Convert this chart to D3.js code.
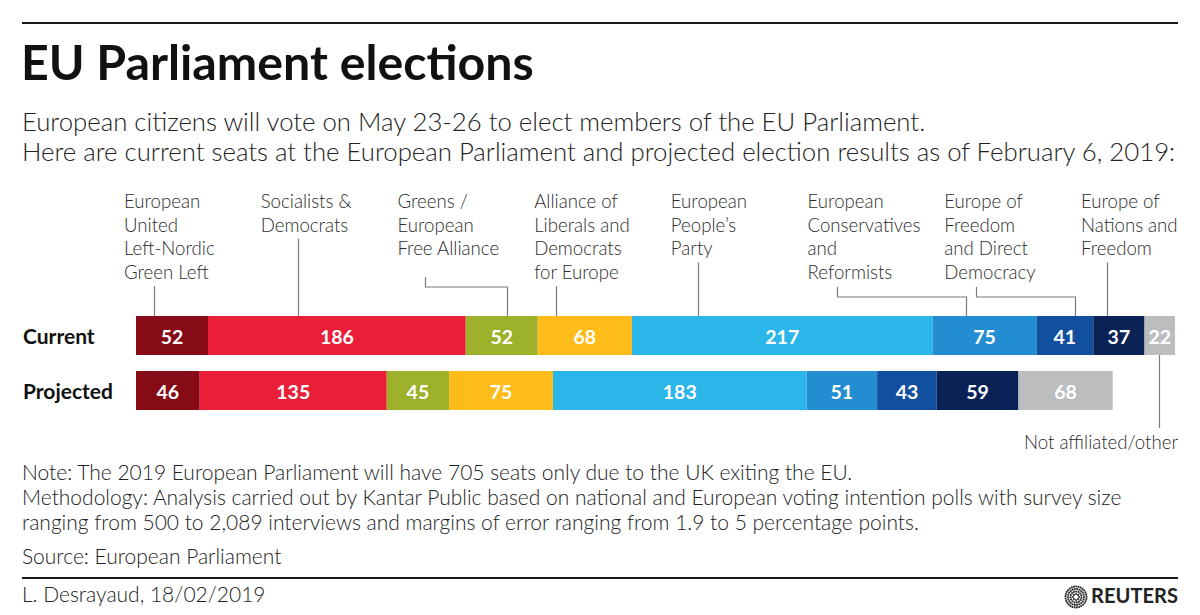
<!DOCTYPE html>
<html lang="en">
  <head>
    <meta charset="UTF-8" />
    <title>EU Parliament elections</title>
    <style>
      body { margin: 0; background: #fff; }
      svg text { font-family: "Source Sans Pro", Lato, sans-serif; }
    </style>
  </head>
  <body>
    <script src="https://d3js.org/d3.v7.min.js"></script>
    <script>
      // groups, in bar order
      const parties = [
        "European United Left-Nordic Green Left",
        "Socialists & Democrats",
        "Greens / European Free Alliance",
        "Alliance of Liberals and Democrats for Europe",
        "European People’s Party",
        "European Conservatives and Reformists",
        "Europe of Freedom and Direct Democracy",
        "Europe of Nations and Freedom",
        "Not affiliated/other",
      ];
      const labelLines = [
        ["European", "United", "Left-Nordic", "Green Left"],
        ["Socialists &", "Democrats"],
        ["Greens /", "European", "Free Alliance"],
        ["Alliance of", "Liberals and", "Democrats", "for Europe"],
        ["European", "People’s", "Party"],
        ["European", "Conservatives", "and", "Reformists"],
        ["Europe of", "Freedom", "and Direct", "Democracy"],
        ["Europe of", "Nations and", "Freedom"],
        ["Not affiliated/other"],
      ];
      const rows = ["Current", "Projected"];
      const currentSeats = [52, 186, 52, 68, 217, 75, 41, 37, 22];
      const projectedSeats = [46, 135, 45, 75, 183, 51, 43, 59, 68];
      const partyColors = [
        "#870b17", "#ea1f37", "#9eb12b", "#fdbc1a", "#2ab6e8",
        "#238dd2", "#114f9f", "#0b2257", "#bcbdbf",
      ];

      const title = "EU Parliament elections";
      const subtitle = [
        "European citizens will vote on May 23-26 to elect members of the EU Parliament.",
        "Here are current seats at the European Parliament and projected election results as of February 6, 2019:",
      ];
      const notes = [
        "Note: The 2019 European Parliament will have 705 seats only due to the UK exiting the EU.",
        "Methodology: Analysis carried out by Kantar Public based on national and European voting intention polls with survey size",
        "ranging from 500 to 2,089 interviews and margins of error ranging from 1.9 to 5 percentage points.",
      ];
      const source = "Source: European Parliament";
      const byline = "L. Desrayaud, 18/02/2019";

      const width = 1200;
      const height = 615;

      // scale the font so that a line matches the width of the original
      function fit(sel, target) {
        const w = sel.node().getComputedTextLength();
        const fs = parseFloat(sel.attr("font-size"));
        return (fs * target) / w;
      }

      const svg = d3
        .select("body")
        .append("svg")
        .attr("width", width)
        .attr("height", height);

      // rules
      svg.append("line")
        .attr("x1", 22).attr("x2", 1178).attr("y1", 23).attr("y2", 23)
        .attr("stroke", "#1a1a1a").attr("stroke-width", 2);
      svg.append("line")
        .attr("x1", 22).attr("x2", 1178).attr("y1", 578).attr("y2", 578)
        .attr("stroke", "#1a1a1a").attr("stroke-width", 2);

      const titleText = svg.append("text")
        .attr("x", 21).attr("y", 80)
        .attr("font-size", 46).attr("font-weight", 700)
        .attr("fill", "#111")
        .text(title);
      titleText.attr("font-size", fit(titleText, 513));

      const sub = svg.append("g");
      sub.selectAll("text")
        .data(subtitle)
        .join("text")
        .attr("x", 22)
        .attr("y", (d, i) => 131 + i * 30)
        .attr("font-size", 24)
        .attr("font-weight", 300)
        .attr("fill", "#222")
        .text((d) => d);
      const subSize = fit(sub.select("text:nth-child(2)"), 1154);
      sub.selectAll("text").attr("font-size", subSize);

      // chart
      const series = [currentSeats, projectedSeats];
      const totalMax = d3.max(series, (s) => d3.sum(s));

      const xScale = d3.scaleLinear().domain([0, totalMax]).range([136, 1175]);
      const yScale = d3
        .scaleBand()
        .domain(rows)
        .range([316, 410])
        .paddingInner(16 / 55);
      const colorScale = d3.scaleOrdinal().domain(parties).range(partyColors);

      const tableData = rows.map((r, ri) => {
        const d = { row: r };
        parties.forEach((p, pi) => (d[p] = series[ri][pi]));
        return d;
      });
      const stacked = d3.stack().keys(parties)(tableData);

      const chart = svg.append("g");
      const stackGroup = chart
        .selectAll("g")
        .data(stacked)
        .join("g")
        .attr("fill", (d) => colorScale(d.key));

      stackGroup
        .selectAll("rect")
        .data((d) => d)
        .join("rect")
        .attr("x", (d) => xScale(d[0]))
        .attr("y", (d) => yScale(d.data.row))
        .attr("width", (d) => xScale(d[1]) - xScale(d[0]))
        .attr("height", yScale.bandwidth());

      stackGroup
        .selectAll("text")
        .data((d) => d)
        .join("text")
        .attr("x", (d) => (xScale(d[0]) + xScale(d[1])) / 2)
        .attr("y", (d) => yScale(d.data.row) + yScale.bandwidth() / 2)
        .attr("dy", "0.45em")
        .attr("text-anchor", "middle")
        .attr("font-size", 19.5)
        .attr("font-weight", 700)
        .attr("fill", "#fff")
        .text((d) => d[1] - d[0]);

      // row labels
      const rowLabels = chart.append("g");
      rowLabels.selectAll("text")
        .data(rows)
        .join("text")
        .attr("x", 23)
        .attr("y", (d) => yScale(d) + yScale.bandwidth() / 2)
        .attr("dy", "0.42em")
        .attr("font-size", 20)
        .attr("font-weight", 700)
        .attr("fill", "#111")
        .text((d) => d);
      const rowSize = fit(rowLabels.select("text:nth-child(2)"), 90);
      rowLabels.selectAll("text").attr("font-size", rowSize);

      // group labels above the bars
      const labelX = d3
        .scalePoint()
        .domain(parties.slice(0, 8))
        .range([124, 1081]);
      const firstBase = 208;
      const lineStep = 23.7;

      const labels = svg.append("g").attr("fill", "#2b2b2b");
      labels.selectAll("text")
        .data(parties.slice(0, 8))
        .join("text")
        .attr("x", (d) => labelX(d))
        .attr("y", firstBase)
        .attr("font-size", 18)
        .attr("font-weight", 300)
        .each(function (d, i) {
          d3.select(this)
            .selectAll("tspan")
            .data(labelLines[i])
            .join("tspan")
            .attr("x", labelX(d))
            .attr("dy", (t, j) => (j === 0 ? 0 : lineStep))
            .text((t) => t);
        });
      const probe = labels.append("text")
        .attr("font-size", 18).attr("font-weight", 300)
        .text("Conservatives");
      const labelSize = fit(probe, 113);
      probe.remove();
      labels.selectAll("text").attr("font-size", labelSize);

      // leader lines: where they meet the current bar (share of the segment)
      const leaderAt = [0.25, 0.35, 0.58, 0.19, 0.22, 0.32, 0.68, 0.27, 0.48];
      const elbows = [null, null, [28, 277, 287], null, null, [29, 287, 297], [32, 287, 297], null, null];
      const curStack = stacked.map((s) => s[0]);
      const barTop = yScale("Current");
      const barBottom = barTop + yScale.bandwidth();

      const leaders = svg.append("g")
        .attr("fill", "none")
        .attr("stroke", "#7a7a7a")
        .attr("stroke-width", 1.2);
      parties.forEach((p, i) => {
        const seg = curStack[i];
        const lx = Math.round(xScale(seg[0] + (seg[1] - seg[0]) * leaderAt[i])) + 0.5;
        let path;
        if (i === 8) {
          path = `M${lx},${barBottom}V428`;
        } else if (elbows[i]) {
          const [dx, y0, y1] = elbows[i];
          const sx = Math.round(labelX(p) + dx) + 0.5;
          path = `M${sx},${y0}V${y1}H${lx}V${barTop}`;
        } else {
          const last = firstBase + (labelLines[i].length - 1) * lineStep;
          path = `M${lx},${last + 7}V${barTop}`;
        }
        leaders.append("path").attr("d", path);
      });

      svg.append("text")
        .attr("x", 1178).attr("y", 449)
        .attr("text-anchor", "end")
        .attr("font-size", labelSize)
        .attr("font-weight", 300)
        .attr("fill", "#2b2b2b")
        .text(labelLines[8][0]);

      // notes
      const foot = svg.append("g").attr("fill", "#222");
      foot.selectAll("text")
        .data(notes)
        .join("text")
        .attr("x", 22)
        .attr("y", (d, i) => 480 + i * 25)
        .attr("font-size", 20)
        .attr("font-weight", 300)
        .text((d) => d);
      const noteSize = fit(foot.select("text:nth-child(2)"), 1100);
      foot.selectAll("text").attr("font-size", noteSize);
      foot.append("text")
        .attr("x", 22).attr("y", 564)
        .attr("font-size", noteSize).attr("font-weight", 300)
        .text(source);
      foot.append("text")
        .attr("x", 22).attr("y", 602)
        .attr("font-size", noteSize).attr("font-weight", 300)
        .text(byline);

      // Reuters mark
      const logo = svg.append("g").attr("transform", "translate(1076,597)");
      [3, 5.5, 8, 10.5].forEach((r, k) => {
        const n = 8 + k * 7;
        logo.selectAll(null)
          .data(d3.range(n))
          .join("circle")
          .attr("cx", (j) => r * Math.cos((j / n) * 2 * Math.PI + k))
          .attr("cy", (j) => r * Math.sin((j / n) * 2 * Math.PI + k))
          .attr("r", 1.1)
          .attr("fill", "#333");
      });
      const reuters = svg.append("text")
        .attr("x", 1091).attr("y", 603)
        .attr("font-size", 18).attr("font-weight", 700)
        .attr("fill", "#222")
        .text("REUTERS");
      reuters.attr("font-size", fit(reuters, 87));
    </script>
  </body>
</html>
